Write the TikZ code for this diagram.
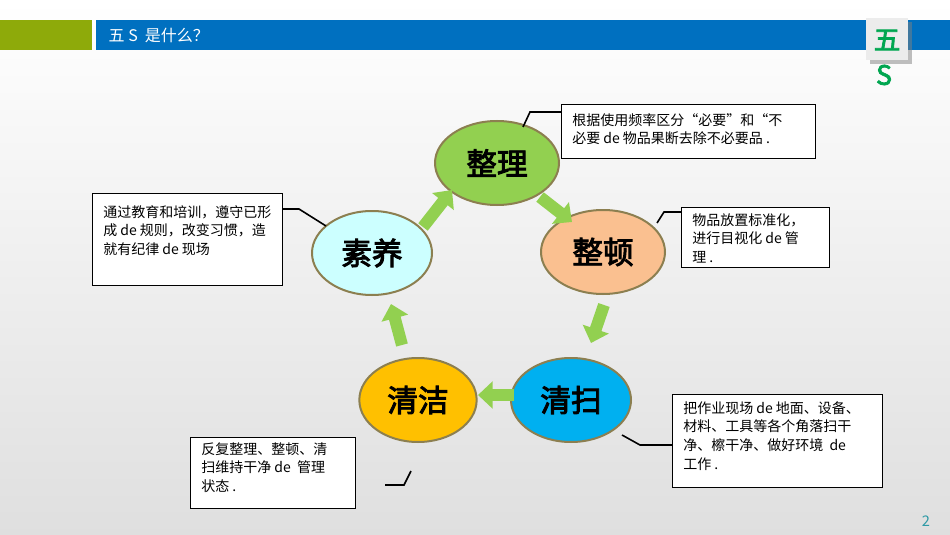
\documentclass[tikz,border=0pt]{standalone}
\usepackage{fontspec}
\setmainfont{Noto Sans CJK SC}
\newfontfamily\cjkb[FakeBold=3]{Noto Sans CJK SC}
\usetikzlibrary{arrows.meta,shapes.geometric,calc,shadows}
\definecolor{hgreen}{HTML}{8EAA0A}
\definecolor{hblue}{HTML}{0070C0}
\definecolor{agreen}{HTML}{92D050}
\definecolor{logog}{HTML}{00A650}
\definecolor{rimc}{HTML}{8C7F50}
\definecolor{pagec}{HTML}{2E9AA6}
\tikzset{
 stage/.style={ellipse,draw=rimc,line width=1.5pt,minimum width=#1,minimum height=63pt,font=\cjkb\fontsize{23pt}{23pt}\selectfont},
 flow/.style={agreen,line width=9pt,-{Triangle[width=20pt,length=11pt]}},
 notebox/.style={draw=black,line width=0.9pt,fill=white,anchor=north west,inner sep=0pt},
 notetext/.style={align=left,anchor=north west,inner sep=0pt,font=\fontsize{10.5pt}{14pt}\selectfont},
 lead/.style={black,line width=1.2pt}
}
\begin{document}
\begin{tikzpicture}[x=0.75pt,y=-0.75pt]
\useasboundingbox (0,0) rectangle (950,535);
\shade[top color=white,bottom color=gray!25] (0,0) rectangle (950,535);
\fill[hgreen] (0,20) rectangle (92,50);
\fill[hblue] (96,20) rectangle (950,50);
\node[white,anchor=west,font=\fontsize{12pt}{12pt}\selectfont] (title) at (104,35) {五 S\ \ 是什么？};
\fill[gray!15,drop shadow] (866,18) rectangle (908,60);
\node[logog,font=\cjkb\fontsize{20pt}{20pt}\selectfont] (l1) at (887,40) {五};
\node[logog,font=\cjkb\fontsize{20pt}{20pt}\selectfont] (l2) at (884,75) {S};

\node[stage=93pt,fill=agreen] (a) at (497,163) {整理};
\node[stage=93pt,fill={rgb,255:red,250;green,192;blue,144}] (b) at (603,252) {整顿};
\node[stage=90pt,fill={rgb,255:red,0;green,176;blue,240}] (c) at (571,400) {清扫};
\node[stage=88pt,fill={rgb,255:red,255;green,192;blue,0}] (d) at (418,400) {清洁};
\node[stage=90pt,fill={rgb,255:red,204;green,255;blue,255}] (e) at (372,253) {素养};

\coordinate (f1s) at (423,227); \coordinate (f1e) at (452,190);
\coordinate (f2s) at (540,197); \coordinate (f2e) at (572,222);
\coordinate (f3s) at (604,305); \coordinate (f3e) at (591,343);
\coordinate (f4s) at (514,395); \coordinate (f4e) at (478,395);
\coordinate (f5s) at (402,345); \coordinate (f5e) at (391,304);
\draw[flow] (f1s) -- (f1e);
\draw[flow] (f2s) -- (f2e);
\draw[flow] (f3s) -- (f3e);
\draw[flow] (f4s) -- (f4e);
\draw[flow] (f5s) -- (f5e);

\node[notebox,minimum width=254pt*0.75,minimum height=54pt*0.75] (n1) at (561,104) {};
\node[notetext] (t1) at (572,113) {根据使用频率区分“必要”和“不\\必要 de 物品果断去除不必要品 .};
\node[notebox,minimum width=148pt*0.75,minimum height=60pt*0.75] (n2) at (681,207) {};
\node[notetext] (t2) at (692,213) {物品放置标准化，\\进行目视化 de 管\\理 .};
\node[notebox,minimum width=190pt*0.75,minimum height=92pt*0.75] (n3) at (92,193) {};
\node[notetext] (t3) at (103,205) {通过教育和培训，遵守已形\\成 de 规则，改变习惯，造\\就有纪律 de 现场};
\node[notebox,minimum width=210pt*0.75,minimum height=93pt*0.75] (n4) at (672,394) {};
\node[notetext] (t4) at (683,401) {把作业现场 de 地面、设备、\\材料、工具等各个角落扫干\\净、檫干净、做好环境\ \ de\\工作 .};
\node[notebox,minimum width=165pt*0.75,minimum height=71pt*0.75] (n5) at (190,437) {};
\node[notetext] (t5) at (201,442) {反复整理、整顿、清\\扫维持干净 de\ \ 管理\\状态 .};

\draw[lead] (n1.west |- 0,112) -- (530,112) -- (523,127);
\draw[lead] (n2.west |- 0,212) -- (664,212) -- (657,223);
\draw[lead] (n3.east |- 0,209) -- (299,209) -- (326,226);
\draw[lead] (n4.west |- 0,445) -- (640,445) -- (622,435);
\draw[lead] (385,485) -- (404,485) -- (411,471);

\node[pagec,font=\fontsize{11pt}{11pt}\selectfont] (pg) at (926,521) {2};
\end{tikzpicture}
\end{document}
